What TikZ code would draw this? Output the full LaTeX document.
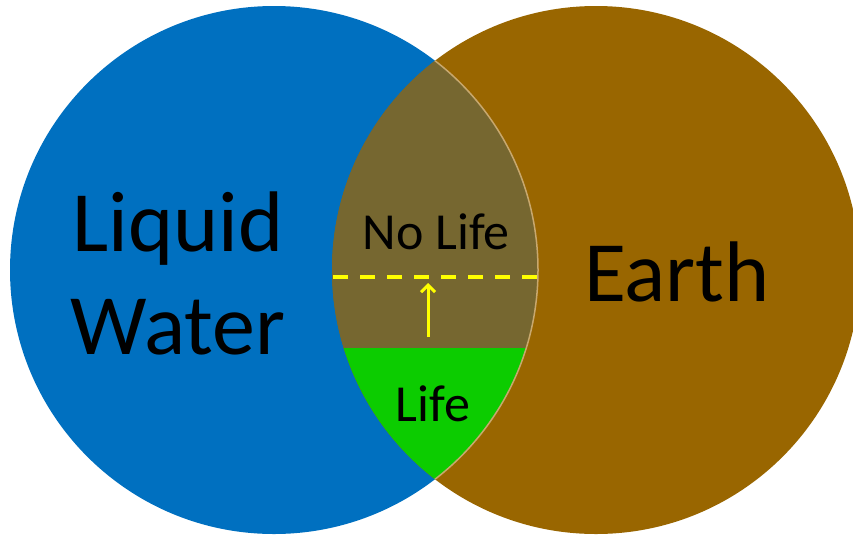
\documentclass[tikz,border=0pt]{standalone}
\usepackage{fontspec}
\setmainfont{Carlito}
\usetikzlibrary{arrows.meta}
\definecolor{wblue}{RGB}{0,112,192}
\definecolor{ebrown}{RGB}{153,102,0}
\definecolor{olive}{RGB}{118,103,48}
\definecolor{lgreen}{RGB}{12,204,0}
\definecolor{tanline}{RGB}{200,168,110}
\definecolor{yel}{RGB}{255,255,0}
\tikzset{
  big/.style={font=\fontsize{86}{103}\selectfont, text=black, align=center, inner sep=0pt},
  mid/.style={font=\fontsize{52}{60}\selectfont, text=black, inner sep=0pt},
}
\begin{document}
\begin{tikzpicture}[x=1pt,y=-1pt]
\useasboundingbox (0,0) rectangle (853,536);
\def\R{264}
% circles
\fill[wblue] (274,270) circle (\R);
\begin{scope}
  \clip (0,0) rectangle (853,536);
  \fill[ebrown] (596,270) circle (\R);
\end{scope}
% lens
\begin{scope}
  \clip (274,270) circle (\R);
  \fill[olive] (596,270) circle (\R);
  \clip (596,270) circle (\R);
  \fill[lgreen] (300,348) rectangle (560,500);
  \draw[yel, line width=4pt, dash pattern=on 15pt off 12pt] (333,277) -- (540,277);
\end{scope}
\begin{scope}
  \clip (596,270) circle (\R);
  \draw[tanline, line width=1.5pt] (274,270) circle (\R);
\end{scope}
% arrow
\coordinate (a0) at (428,337);
\coordinate (a1) at (428,283);
\draw[yel, line width=3pt, -{Straight Barb[length=7pt,width=14pt]}] (a0) -- (a1);
% labels
\node[big, anchor=base] (lw) at (178,251) {Liquid};
\node[big, anchor=base] (wt) at (178,354) {Water};
\node[big, anchor=base] (ea) at (677,301) {Earth};
\node[mid, anchor=base] (nl) at (436,249) {No Life};
\node[mid, anchor=base] (lf) at (433,421) {Life};
\end{tikzpicture}
\end{document}
